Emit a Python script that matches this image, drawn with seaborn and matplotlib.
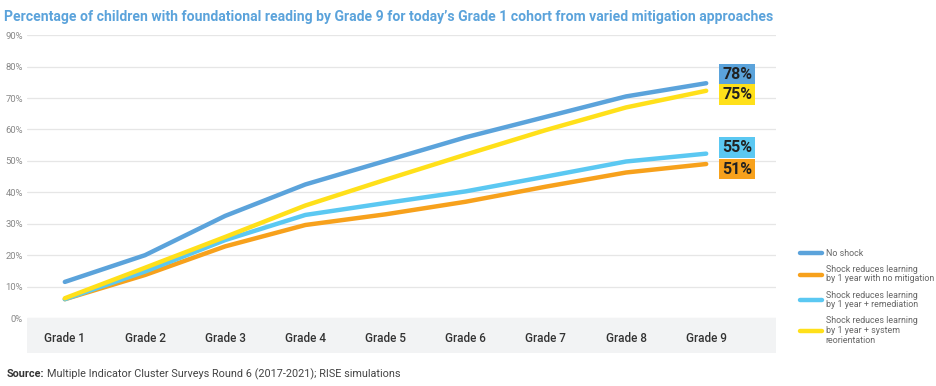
import pandas as pd
import seaborn as sns
import matplotlib.pyplot as plt
from matplotlib.patches import Rectangle

grades = ["Grade 1", "Grade 2", "Grade 3", "Grade 4", "Grade 5",
          "Grade 6", "Grade 7", "Grade 8", "Grade 9"]
no_shock = [11.5, 20.0, 32.5, 42.5, 50.0, 57.5, 64.0, 70.5, 74.7]
no_mitigation = [6.0, 13.7, 22.8, 29.6, 33.0, 37.0, 41.8, 46.3, 49.0]
remediation = [6.0, 14.8, 24.8, 32.8, 36.6, 40.3, 45.0, 49.8, 52.3]
reorientation = [6.3, 16.0, 25.8, 35.8, 44.0, 52.0, 59.8, 67.0, 72.3]

series_names = ["No shock",
                "Shock reduces learning\nby 1 year with no mitigation",
                "Shock reduces learning\nby 1 year + remediation",
                "Shock reduces learning\nby 1 year + system\nreorientation"]
end_labels = ["78%", "51%", "55%", "75%"]
end_label_y = [77.6, 47.4, 54.2, 71.0]
colors = ["#5ba3db", "#f7a11c", "#5bc8f2", "#ffe01a"]

rows = []
for name, vals in zip(series_names, [no_shock, no_mitigation, remediation, reorientation]):
    for i, v in enumerate(vals):
        rows.append({"grade": i, "value": v, "series": name})
df = pd.DataFrame(rows)

sns.set_style("white")
plt.rcParams["font.family"] = ["Roboto", "DejaVu Sans"]

fig = plt.figure(figsize=(9.36, 3.86), dpi=100)
ax = fig.add_axes([0.029, 0.176, 0.8, 0.733])

sns.lineplot(data=df, x="grade", y="value", hue="series", palette=colors,
             hue_order=series_names, linewidth=3.2, ax=ax, legend=True,
             solid_capstyle="round")

ax.set_xlim(-0.47, 8.87)
ax.set_ylim(0, 90)
ax.set_yticks(range(0, 100, 10))
ax.set_yticklabels([f"{t}%" for t in range(0, 100, 10)], color="#888888", fontsize=6.8)
ax.set_xticks(range(len(grades)))
ax.set_xticklabels(grades, fontsize=8.5, color="#333333", fontweight="medium")
ax.tick_params(axis="x", length=0, pad=10)
ax.tick_params(axis="y", length=0, pad=3)
ax.grid(axis="y", color="#e6e6e6", linewidth=0.9)
ax.set_axisbelow(True)
for s in ax.spines.values():
    s.set_visible(False)
ax.set_xlabel("")
ax.set_ylabel("")

# grey band under the x axis
ax.add_patch(Rectangle((0, -0.125), 1, 0.125, transform=ax.transAxes,
                       facecolor="#f2f3f4", edgecolor="none", clip_on=False, zorder=0))

# end value boxes
for lab, yv, c in zip(end_labels, end_label_y, colors):
    ax.text(8.2, yv, lab, fontsize=11.5, fontweight="bold", color="#222222",
            va="center", ha="left",
            bbox=dict(boxstyle="square,pad=0.18", facecolor=c, edgecolor="none"))

# legend
handles, labels = ax.get_legend_handles_labels()
ax.get_legend().remove()
leg = fig.legend(handles, labels, loc="upper left", bbox_to_anchor=(0.851, 0.365),
                 frameon=False, fontsize=6.4, handlelength=2.5, labelspacing=0.8,
                 handletextpad=0.4, borderaxespad=0)
for t in leg.get_texts():
    t.set_color("#666666")
    t.set_linespacing(1.1)
for line in leg.get_lines():
    line.set_linewidth(3.2)

title = fig.text(0.004, 0.955,
                 "Percentage of children with foundational reading by Grade 9 for today\u2019s Grade 1 cohort from varied mitigation approaches",
                 fontsize=10.5, fontweight="bold", color="#5ba3db", ha="left", va="center")
fig.canvas.draw()
# shrink title to fit the width of the reference title
while title.get_window_extent().width > 772 and title.get_fontsize() > 6:
    title.set_fontsize(title.get_fontsize() - 0.1)
    fig.canvas.draw()

src = fig.text(0.007, 0.03, "Source:", fontsize=7.8, fontweight="bold", color="#333333",
               ha="left", va="center")
fig.canvas.draw()
bb = src.get_window_extent()
fig.text(bb.x1 / fig.bbox.width + 0.003, 0.03,
         "Multiple Indicator Cluster Surveys Round 6 (2017-2021); RISE simulations",
         fontsize=7.8, color="#444444", ha="left", va="center")

fig.savefig("out.png", dpi=100)
